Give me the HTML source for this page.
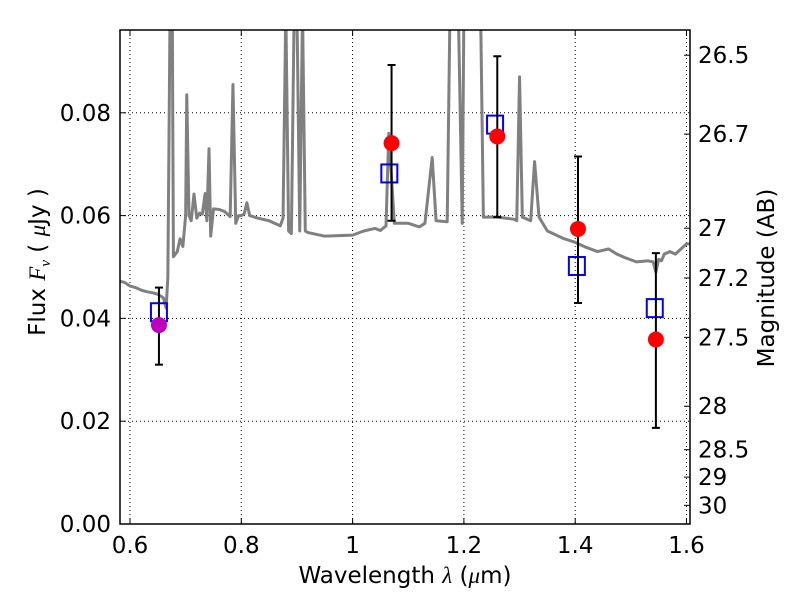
<!DOCTYPE html>
<html><head><meta charset="utf-8"><style>
body{margin:0;background:#fff;width:800px;height:600px;overflow:hidden}
text{font-family:"DejaVu Sans","Liberation Sans",sans-serif;fill:#000}
</style></head><body>
<svg id="chart" width="800" height="600"></svg>
<script>
const specWave=[0.58,0.59,0.60,0.61,0.62,0.63,0.64,0.65,0.66,0.665,0.668,0.672,0.676,0.678,0.685,0.69,0.695,0.70,0.702,0.706,0.71,0.715,0.72,0.725,0.73,0.735,0.738,0.742,0.745,0.75,0.76,0.77,0.78,0.785,0.79,0.795,0.80,0.805,0.81,0.815,0.83,0.85,0.87,0.875,0.88,0.885,0.89,0.895,0.90,0.905,0.91,0.915,0.92,0.95,1.0,1.02,1.04,1.05,1.06,1.065,1.075,1.10,1.12,1.13,1.143,1.15,1.17,1.175,1.19,1.197,1.20,1.23,1.235,1.26,1.29,1.295,1.30,1.305,1.32,1.327,1.335,1.35,1.38,1.40,1.42,1.44,1.46,1.475,1.49,1.51,1.53,1.54,1.545,1.55,1.555,1.56,1.57,1.58,1.59,1.60,1.61];
const specFlux=[0.0473,0.0470,0.0463,0.0460,0.0455,0.0452,0.0450,0.0447,0.044,0.042,0.048,0.1,0.1,0.052,0.053,0.0555,0.054,0.060,0.0835,0.060,0.059,0.0642,0.0595,0.0605,0.0603,0.0643,0.059,0.073,0.056,0.0613,0.0612,0.0608,0.0598,0.0855,0.0585,0.060,0.060,0.0603,0.0625,0.060,0.0595,0.059,0.058,0.0595,0.1,0.057,0.0565,0.1,0.1,0.057,0.1,0.057,0.0567,0.056,0.0562,0.057,0.0575,0.0571,0.058,0.076,0.0585,0.0585,0.0578,0.0585,0.0713,0.059,0.0588,0.1,0.1,0.0585,0.1,0.1,0.0597,0.0597,0.0593,0.059,0.087,0.0597,0.059,0.0705,0.0597,0.057,0.0555,0.0548,0.0538,0.053,0.0535,0.0525,0.0518,0.051,0.0512,0.051,0.049,0.0515,0.0512,0.0525,0.053,0.0525,0.0535,0.0545,0.0545];
const obsWave=[0.652,1.07,1.26,1.405,1.545];
const obsFlux=[0.0387,0.0741,0.0754,0.0574,0.0359];
const errLow=[0.031,0.059,0.0597,0.043,0.0187];
const errHigh=[0.046,0.0893,0.091,0.0715,0.0527];
const modelWave=[0.652,1.066,1.256,1.403,1.543];
const modelFlux=[0.0412,0.0682,0.0777,0.0502,0.042];
const xTicks=[0.6,0.8,1.0,1.2,1.4,1.6];
const xTickLabels=["0.6","0.8","1","1.2","1.4","1.6"];
const yTicks=[0,0.02,0.04,0.06,0.08];
const yTickLabels=["0.00","0.02","0.04","0.06","0.08"];
const magTicks=[26.5,26.7,27,27.2,27.5,28,28.5,29,30];
const magLabels=["26.5","26.7","27","27.2","27.5","28","28.5","29","30"];

const L=120,R=690,T=30,B=524;
const x=v=>352.6+(v-1)*556.5;
const y=v=>B-v*5140;
const NS="http://www.w3.org/2000/svg";
const svg=document.getElementById('chart');
function mk(tag,attrs,parent){const e=document.createElementNS(NS,tag);for(const k in attrs)e.setAttribute(k,attrs[k]);(parent||svg).appendChild(e);return e;}
const defs=mk('defs',{});const cp=mk('clipPath',{id:'pc'},defs);mk('rect',{x:L,y:T,width:R-L,height:B-T},cp);

xTicks.forEach((v,i)=>{
 const g=mk('line',{x1:x(v),x2:x(v),y1:T,y2:B,stroke:'#000','stroke-width':1,'stroke-dasharray':'1,3'});
 
 
 mk('line',{x1:x(v),x2:x(v),y1:B,y2:B-6,stroke:'#000'});
 mk('line',{x1:x(v),x2:x(v),y1:T,y2:T+6,stroke:'#000'});
 const t=mk('text',{x:x(v),y:B+29,'text-anchor':'middle','font-size':23});t.textContent=xTickLabels[i];
 
 
});
yTicks.forEach((v,i)=>{
 const g=mk('line',{x1:L,x2:R,y1:y(v),y2:y(v),stroke:'#000','stroke-width':1,'stroke-dasharray':'1,3'});
 
 
 mk('line',{x1:L,x2:L+6,y1:y(v),y2:y(v),stroke:'#000'});
 const t=mk('text',{x:L-9,y:y(v)+8,'text-anchor':'end','font-size':23});t.textContent=yTickLabels[i];
 
 
});
magTicks.forEach((m,i)=>{
 const f=Math.pow(10,(23.9-m)/2.5);
 mk('line',{x1:R,x2:R-6,y1:y(f),y2:y(f),stroke:'#000'});
 const t=mk('text',{x:R+8,y:y(f)+8,'font-size':23});t.textContent=magLabels[i];
 
 
});

const pts=specWave.map((w,i)=>x(w)+','+y(specFlux[i])).join(' ');
const sp=mk('polyline',{points:pts,fill:'none',stroke:'#808080','stroke-width':3,'clip-path':'url(#pc)','stroke-linejoin':'round'});



modelWave.forEach((w,i)=>{
 const r=mk('rect',{x:x(w)-8,y:y(modelFlux[i])-9,width:16,height:18,fill:'none',stroke:'#0000ff','stroke-width':2});
 
 
});
obsWave.forEach((w,i)=>{
 const e=mk('line',{x1:x(w),x2:x(w),y1:y(errLow[i]),y2:y(errHigh[i]),stroke:'#000','stroke-width':2});
 
 
 mk('line',{x1:x(w)-4,x2:x(w)+4,y1:y(errLow[i]),y2:y(errLow[i]),stroke:'#000','stroke-width':2});
 mk('line',{x1:x(w)-4,x2:x(w)+4,y1:y(errHigh[i]),y2:y(errHigh[i]),stroke:'#000','stroke-width':2});
 const c=mk('circle',{cx:x(w),cy:y(obsFlux[i]),r:8,fill:i===0?'#bf00bf':'#ff0000'});
 
 
});
const fr=mk('rect',{x:L,y:T,width:R-L,height:B-T,fill:'none',stroke:'#000','stroke-width':1.5});



const xl=mk('text',{x:405,y:583,'text-anchor':'middle','font-size':23});xl.innerHTML='Wavelength  <tspan font-style="italic" font-family="Liberation Serif">λ</tspan> (<tspan font-style="italic" font-family="Liberation Serif">μ</tspan>m)';


const yl=mk('text',{x:0,y:0,'text-anchor':'middle','font-size':23,transform:'translate(45,262) rotate(-90)'});yl.innerHTML='Flux  <tspan font-style="italic" font-family="Liberation Serif">F</tspan><tspan font-style="italic" font-family="Liberation Serif" font-size="15" dy="5">ν</tspan><tspan dy="-5">  (  </tspan><tspan font-style="italic" font-family="Liberation Serif">μ</tspan>Jy )';


const rl=mk('text',{x:0,y:0,'text-anchor':'middle','font-size':23,transform:'translate(774,278) rotate(-90)'});rl.textContent='Magnitude (AB)';


</script>
</body></html>
